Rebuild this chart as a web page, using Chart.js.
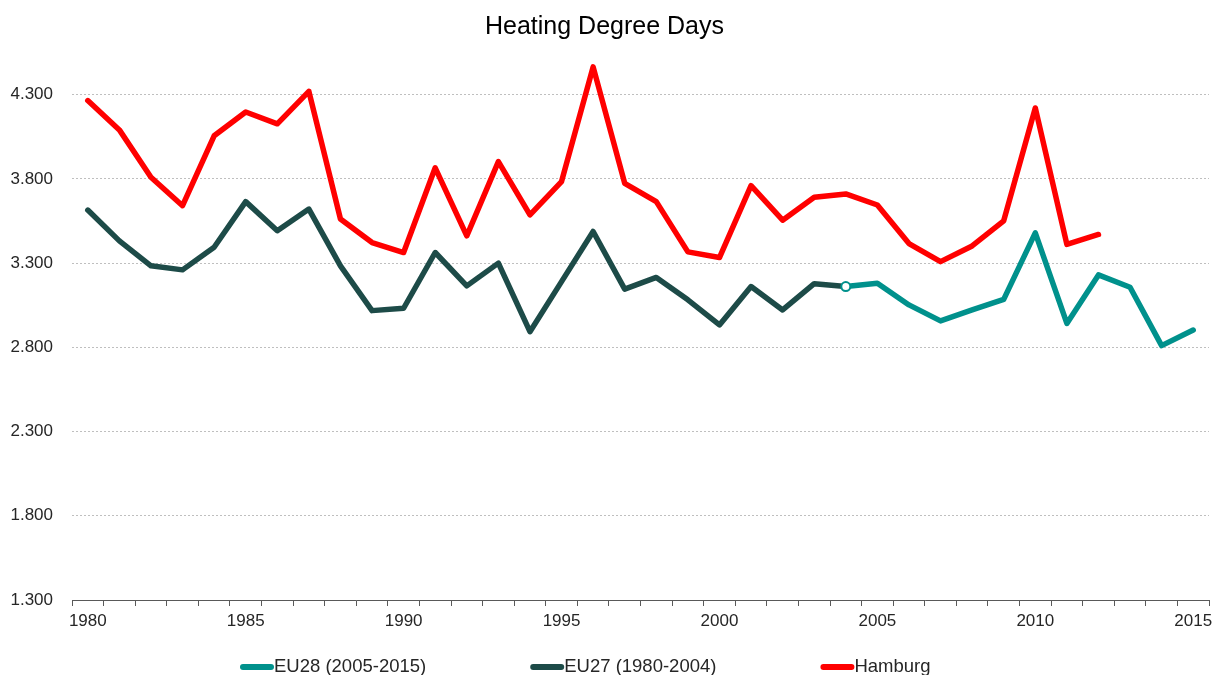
<!DOCTYPE html>
<html>
<head>
<meta charset="utf-8">
<title>Heating Degree Days</title>
<script src="https://cdn.jsdelivr.net/npm/chart.js@4.4.1/dist/chart.umd.min.js"></script>
<style>
  html, body { margin: 0; padding: 0; background: #fff; }
  #wrap { width: 1218px; height: 675px; }
</style>
</head>
<body>
<div id="wrap"><canvas id="hdd"></canvas></div>
<script>
const years = ['1980', '1981', '1982', '1983', '1984', '1985', '1986', '1987', '1988', '1989',
               '1990', '1991', '1992', '1993', '1994', '1995', '1996', '1997', '1998', '1999',
               '2000', '2001', '2002', '2003', '2004', '2005', '2006', '2007', '2008', '2009',
               '2010', '2011', '2012', '2013', '2014', '2015'];

// EU28, 2004 repeats the last EU27 value so both lines join
const eu28 = [null, null, null, null, null, null, null, null, null, null,
              null, null, null, null, null, null, null, null, null, null,
              null, null, null, null, 3161, 3181, 3052, 2957, 3022, 3085,
              3480, 2942, 3230, 3157, 2810, 2903];

const eu27 = [3615, 3432, 3284, 3260, 3394, 3665, 3492, 3621, 3284, 3018,
              3032, 3363, 3165, 3300, 2893, 3190, 3488, 3146, 3215, 3082,
              2933, 3161, 3022, 3178, 3161, null, null, null, null, null,
              null, null, null, null, null, null];

const hamburg = [4265, 4091, 3810, 3641, 4056, 4197, 4127, 4320, 3562, 3422,
                 3363, 3866, 3462, 3903, 3587, 3784, 4465, 3774, 3665, 3367,
                 3333, 3760, 3555, 3691, 3711, 3645, 3416, 3309, 3402, 3551,
                 4221, 3411, 3470, null, null, null];

const yTicks = [1300, 1800, 2300, 2800, 3300, 3800, 4300];

const TEAL = '#00918c';
const DARK = '#1d4b48';
const RED = '#ff0000';
const SANS = "'Liberation Sans', Arial, sans-serif";

// German style thousands separator: 4300 -> 4.300
function fmt(v) {
  return String(v).replace(/\B(?=(\d{3})+(?!\d))/g, '.');
}

// legend row under the axis: thick rounded swatch followed by the label
const bottomLegend = {
  id: 'bottomLegend',
  afterDraw(chart) {
    const ctx = chart.ctx;
    const y = 667;
    const swatch = 34;
    const gap = 104;
    ctx.save();
    ctx.font = '18.5px ' + SANS;
    ctx.textBaseline = 'middle';
    ctx.textAlign = 'left';
    let x = 240;
    chart.data.datasets.forEach(ds => {
      ctx.strokeStyle = ds.borderColor;
      ctx.lineWidth = 6;
      ctx.lineCap = 'round';
      ctx.beginPath();
      ctx.moveTo(x + 3, y);
      ctx.lineTo(x + swatch - 3, y);
      ctx.stroke();
      ctx.fillStyle = '#262626';
      ctx.fillText(ds.label, x + swatch, y);
      x += swatch + ctx.measureText(ds.label).width + gap;
    });
    ctx.restore();
  }
};

new Chart(document.getElementById('hdd'), {
  type: 'line',
  data: {
    labels: years,
    datasets: [
      {
        label: 'EU28 (2005-2015)',
        data: eu28,
        borderColor: TEAL,
        backgroundColor: TEAL,
        borderWidth: 5.5,
        pointRadius: ctx => (ctx.dataIndex === 24 ? 4.5 : 0),
        pointBackgroundColor: '#ffffff',
        pointBorderColor: TEAL,
        pointBorderWidth: 2
      },
      {
        label: 'EU27 (1980-2004)',
        data: eu27,
        borderColor: DARK,
        backgroundColor: DARK,
        borderWidth: 5.5,
        pointRadius: 0
      },
      {
        label: 'Hamburg',
        data: hamburg,
        borderColor: RED,
        backgroundColor: RED,
        borderWidth: 5.5,
        pointRadius: 0
      }
    ]
  },
  options: {
    responsive: true,
    maintainAspectRatio: false,
    animation: false,
    spanGaps: false,
    elements: {
      line: { tension: 0, borderCapStyle: 'round', borderJoinStyle: 'round' }
    },
    layout: { padding: { left: 0, right: 9, top: 0, bottom: 45 } },
    plugins: {
      legend: { display: false },
      tooltip: { enabled: false },
      title: {
        display: true,
        text: 'Heating Degree Days',
        color: '#000',
        font: { family: SANS, size: 25, weight: 'normal' },
        padding: { top: 12, bottom: 19 }
      }
    },
    scales: {
      x: {
        type: 'category',
        offset: true,
        grid: {
          offset: true,
          drawOnChartArea: false,
          drawTicks: true,
          tickLength: 6,
          color: '#595959'
        },
        border: { display: true, color: '#595959', width: 1 },
        ticks: {
          autoSkip: false,
          maxRotation: 0,
          padding: 5,
          color: '#262626',
          font: { family: SANS, size: 17 },
          callback(value) {
            const lbl = this.getLabelForValue(value);
            return Number(lbl) % 5 === 0 ? lbl : '';
          }
        },
        afterFit(scale) { scale.height = 30; }
      },
      y: {
        min: 1300,
        max: 4500,
        afterBuildTicks(scale) {
          scale.ticks = yTicks.map(v => ({ value: v }));
        },
        grid: {
          color: '#bfbfbf',
          lineWidth: 1,
          drawTicks: false
        },
        border: { display: false, dash: [2, 2] },
        ticks: {
          padding: 19,
          color: '#262626',
          font: { family: SANS, size: 17 },
          callback: v => fmt(v)
        },
        afterFit(scale) { scale.width = 72; }
      }
    }
  },
  plugins: [bottomLegend]
});
</script>
</body>
</html>
